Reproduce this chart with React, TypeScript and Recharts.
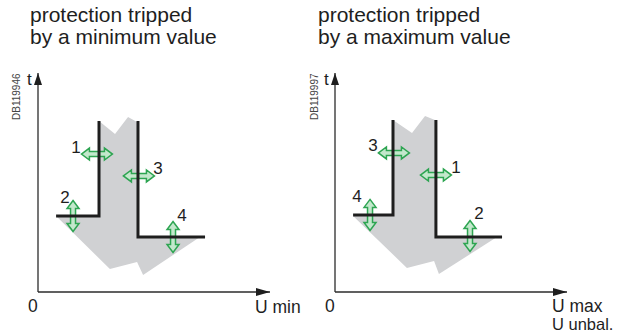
import { ComposedChart, Line, Scatter, XAxis, YAxis } from "recharts";

// left diagram: protection tripped by a minimum value (U min)
const minZone = [
  { x: 7.8, y: 34.7 }, { x: 26.3, y: 34.7 }, { x: 26.3, y: 78.1 }, { x: 33.2, y: 72.1 },
  { x: 38.8, y: 79.9 }, { x: 42.7, y: 77.6 }, { x: 43.1, y: 25.1 }, { x: 69.8, y: 25.1 },
  { x: 45.3, y: 7.8 }, { x: 42.7, y: 13.7 }, { x: 31.0, y: 10.5 },
];
const minStepLow = [{ x: 7.8, y: 34.7 }, { x: 26.3, y: 34.7 }, { x: 26.3, y: 78.1 }];
const minStepHigh = [{ x: 43.1, y: 78.1 }, { x: 43.1, y: 25.1 }, { x: 72.0, y: 25.1 }];
const minArrows = [
  { x: 25.4, y: 63.0, dir: "h" },
  { x: 15.1, y: 34.7, dir: "v" },
  { x: 43.5, y: 53.0, dir: "h" },
  { x: 58.2, y: 25.1, dir: "v" },
];
const minLabels = [
  { x: 16.4, y: 66.2, label: "1" },
  { x: 11.6, y: 43.4, label: "2" },
  { x: 51.7, y: 56.6, label: "3" },
  { x: 62.1, y: 35.2, label: "4" },
];

// right diagram: protection tripped by a maximum value (U max, U unbal.)
const maxZone = [
  { x: 7.8, y: 34.7 }, { x: 25.0, y: 34.7 }, { x: 25.0, y: 78.5 }, { x: 33.2, y: 72.6 },
  { x: 38.8, y: 80.4 }, { x: 43.1, y: 78.5 }, { x: 43.5, y: 25.1 }, { x: 69.8, y: 25.1 },
  { x: 44.8, y: 8.2 }, { x: 42.7, y: 14.2 }, { x: 31.0, y: 11.0 },
];
const maxStepLow = [{ x: 7.8, y: 35.2 }, { x: 25.0, y: 35.2 }, { x: 25.0, y: 78.5 }];
const maxStepHigh = [{ x: 43.5, y: 78.5 }, { x: 43.5, y: 25.1 }, { x: 72.0, y: 25.1 }];
const maxArrows = [
  { x: 25.4, y: 63.5, dir: "h" },
  { x: 15.1, y: 35.2, dir: "v" },
  { x: 43.5, y: 53.4, dir: "h" },
  { x: 58.2, y: 25.6, dir: "v" },
];
const maxLabels = [
  { x: 16.4, y: 67.1, label: "3" },
  { x: 52.2, y: 57.1, label: "1" },
  { x: 9.5, y: 43.8, label: "4" },
  { x: 62.1, y: 36.1, label: "2" },
];

const FONT = '"Liberation Sans", Arial, sans-serif';
const INK = "#1e1e1e";

const DoubleArrow = (props: any) => {
  const { cx, cy, payload } = props;
  const L = 15.5, h = 8, H = 6, s = 2.5;
  const d = `M${-L},0 L${-L + h},${-H} L${-L + h},${-s} L${L - h},${-s} L${L - h},${-H} L${L},0 L${L - h},${H} L${L - h},${s} L${-L + h},${s} L${-L + h},${H} Z`;
  return (
    <path
      d={d}
      transform={`translate(${cx},${cy}) rotate(${payload.dir === "v" ? 90 : 0})`}
      fill="#c3e8cc"
      stroke="#2ea552"
      strokeWidth={1.5}
    />
  );
};

const NumberLabel = (props: any) => (
  <text x={props.cx} y={props.cy + 6} textAnchor="middle" fontSize={17} fontFamily={FONT} fill={INK}>
    {props.payload.label}
  </text>
);

const ZonePolygon = (p: any) => (
  <polygon points={p.points.map((pt: any) => `${pt.x},${pt.y}`).join(" ")} fill="#d0d1d3" stroke="none" />
);

function Panel({ left, zone, steps, arrows, labels }: any) {
  return (
    <div style={{ position: "absolute", left, top: 0 }}>
      <ComposedChart width={300} height={336} margin={{ top: 73, right: 30, bottom: 43, left: 37 }}>
        <XAxis
          type="number"
          dataKey="x"
          domain={[0, 100]}
          tick={false}
          tickLine={false}
          height={1}
          axisLine={{ stroke: "#2b2b2b", strokeWidth: 1.3, markerEnd: "url(#arrow-x)" }}
        />
        <YAxis
          type="number"
          dataKey="y"
          domain={[0, 100]}
          tick={false}
          tickLine={false}
          width={1}
          axisLine={{ stroke: "#2b2b2b", strokeWidth: 1.3, markerStart: "url(#arrow-y)" }}
        />
        <Scatter data={zone} shape={() => <g />} line={ZonePolygon} isAnimationActive={false} zIndex={100} />
        <Scatter data={arrows} shape={DoubleArrow} isAnimationActive={false} zIndex={300} />
        {steps.map((s: any, i: number) => (
          <Line
            key={i}
            data={s}
            dataKey="y"
            type="linear"
            stroke={INK}
            strokeWidth={3}
            dot={false}
            activeDot={false}
            isAnimationActive={false}
            zIndex={400}
          />
        ))}
        <Scatter data={labels} shape={NumberLabel} isAnimationActive={false} zIndex={600} />
      </ComposedChart>
    </div>
  );
}

export default function App() {
  return (
    <div style={{ position: "absolute", left: 0, top: 0, width: 621, height: 336, background: "#fff" }}>
      <Panel left={0} zone={minZone} steps={[minStepLow, minStepHigh]} arrows={minArrows} labels={minLabels} />
      <Panel left={297} zone={maxZone} steps={[maxStepLow, maxStepHigh]} arrows={maxArrows} labels={maxLabels} />
      <svg
        width={621}
        height={336}
        style={{ position: "absolute", left: 0, top: 0, pointerEvents: "none" }}
        fontFamily={FONT}
        fill={INK}
      >
        <defs>
          <marker id="arrow-x" markerUnits="userSpaceOnUse" markerWidth={14} markerHeight={8} viewBox="0 0 14 8" refX={14} refY={4} orient="auto">
            <path d="M0,0 L14,4 L0,8 Z" fill={INK} />
          </marker>
          <marker id="arrow-y" markerUnits="userSpaceOnUse" markerWidth={12} markerHeight={8} viewBox="0 0 12 8" refX={12} refY={4} orient="auto-start-reverse">
            <path d="M0,0 L12,4 L0,8 Z" fill={INK} />
          </marker>
        </defs>
        <text x={30} y={22} fontSize={21}>protection tripped</text>
        <text x={30} y={43.5} fontSize={21}>by a minimum value</text>
        <text x={318} y={22} fontSize={21}>protection tripped</text>
        <text x={318} y={43.5} fontSize={21}>by a maximum value</text>

        <text transform="translate(20,120) rotate(-90)" fontSize={10} fill="#444">DB119946</text>
        <text transform="translate(318,120) rotate(-90)" fontSize={10} fill="#444">DB119997</text>
        <text x={27} y={85} fontSize={17}>t</text>
        <text x={324} y={85} fontSize={17}>t</text>

        <text x={28} y={312} fontSize={17.5}>0</text>
        <text x={255} y={313} fontSize={17.5}>U min</text>
        <text x={325} y={312} fontSize={17.5}>0</text>
        <text x={552} y={312} fontSize={17.5}>U max</text>
        <text x={552} y={330} fontSize={16.5}>U unbal.</text>
      </svg>
    </div>
  );
}
